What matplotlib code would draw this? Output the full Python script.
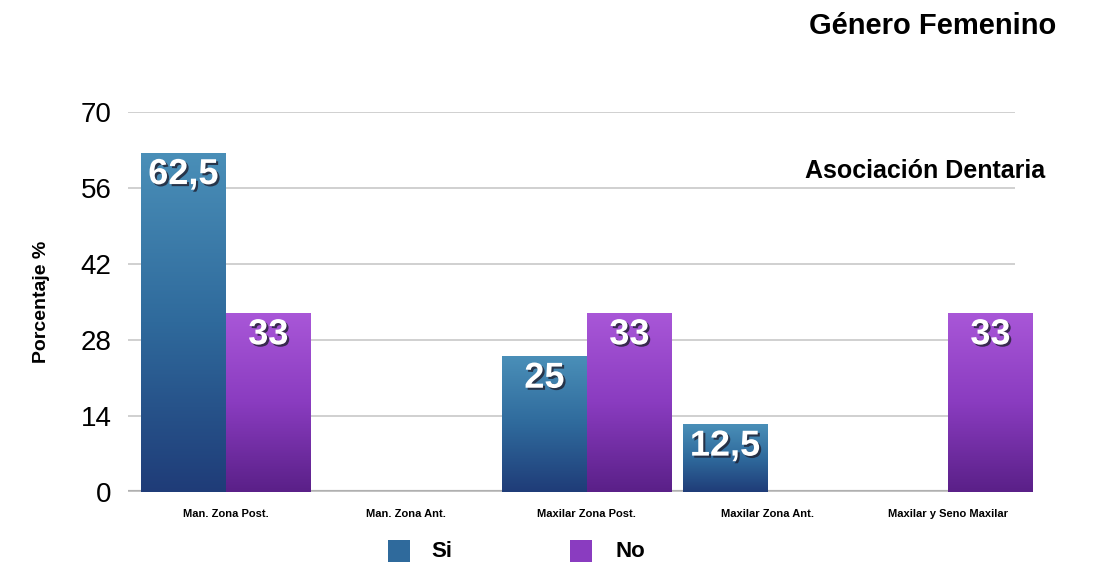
import numpy as np
import matplotlib.pyplot as plt
import matplotlib.patheffects as pe
from matplotlib.colors import LinearSegmentedColormap

plt.rcParams['font.family'] = ['Liberation Sans', 'DejaVu Sans']

categories = ['Man. Zona Post.', 'Man. Zona Ant.', 'Maxilar Zona Post.',
              'Maxilar Zona Ant.', 'Maxilar y Seno Maxilar']
si_values = [62.5, 0, 25, 12.5, 0]
no_values = [33, 0, 33, 0, 33]
si_labels = ['62,5', '', '25', '12,5', '']
no_labels = ['33', '', '33', '', '33']
yticks = [0, 14, 28, 42, 56, 70]

fig = plt.figure(figsize=(10.97, 5.67), dpi=100)
ax = fig.add_axes([0.117, 0.132, 0.808, 0.6705])

x = np.arange(len(categories))
w = 0.47

si_cmap = LinearSegmentedColormap.from_list('si', ['#1f3c78', '#2f6a9c', '#4a8fb8'])
no_cmap = LinearSegmentedColormap.from_list('no', ['#5a2088', '#8a3cc0', '#a957d8'])


def gradient_bars(xs, vals, cmap, offset):
    bars = ax.bar(xs + offset, vals, w, color='none', edgecolor='none', zorder=3)
    grad = np.linspace(0, 1, 256).reshape(-1, 1)
    for b, v in zip(bars, vals):
        if v <= 0:
            continue
        x0, wd = b.get_x(), b.get_width()
        im = ax.imshow(grad, cmap=cmap, origin='lower', aspect='auto',
                       extent=[x0, x0 + wd, 0, v], zorder=3)
        im.set_clip_path(b)
    return bars


si_bars = gradient_bars(x, si_values, si_cmap, -w / 2)
no_bars = gradient_bars(x, no_values, no_cmap, w / 2)

shadow = [pe.SimplePatchShadow(offset=(1.5, -1.5), shadow_rgbFace='#202030', alpha=0.8),
          pe.Normal()]
for xi, v, lab in zip(x, si_values, si_labels):
    if lab:
        ax.text(xi - w / 2, v - 0.8, lab, ha='center', va='top', color='white',
                fontsize=26, fontweight='bold', path_effects=shadow, zorder=5)
for xi, v, lab in zip(x, no_values, no_labels):
    if lab:
        ax.text(xi + w / 2, v - 0.8, lab, ha='center', va='top', color='white',
                fontsize=26, fontweight='bold', path_effects=shadow, zorder=5)

ax.set_xlim(-0.54, 4.37)
ax.set_ylim(0, 70)
ax.set_yticks(yticks)
ax.set_yticklabels([str(t) for t in yticks], fontsize=20)
ax.tick_params(axis='y', length=0, pad=12)
ax.set_xticks(x)
ax.set_xticklabels(categories, fontsize=8, fontweight='bold')
ax.tick_params(axis='x', length=0, pad=12)
ax.grid(axis='y', color='#c8c8c8', linewidth=1.2, zorder=0)
ax.axhline(0, color='#b0b0b0', linewidth=3, zorder=1)
for s in ax.spines.values():
    s.set_visible(False)

ax.set_ylabel('Porcentaje %', fontsize=14, fontweight='bold', labelpad=22)

fig.text(0.963, 0.955, 'Género Femenino', ha='right', va='center',
         fontsize=21, fontweight='bold')
ax.text(0.763, 0.845, 'Asociación Dentaria', transform=ax.transAxes,
        ha='left', va='center', fontsize=18, fontweight='bold')

# legend
fig.patches.append(plt.Rectangle((0.354, 0.008), 0.02, 0.04, transform=fig.transFigure,
                                 facecolor='#2f6a9c', edgecolor='none'))
fig.text(0.393, 0.027, 'Si', ha='left', va='center', fontsize=16, fontweight='bold')
fig.patches.append(plt.Rectangle((0.52, 0.008), 0.02, 0.04, transform=fig.transFigure,
                                 facecolor='#8a3cc0', edgecolor='none'))
fig.text(0.561, 0.027, 'No', ha='left', va='center', fontsize=16, fontweight='bold')

fig.savefig('out.png', dpi=100)
